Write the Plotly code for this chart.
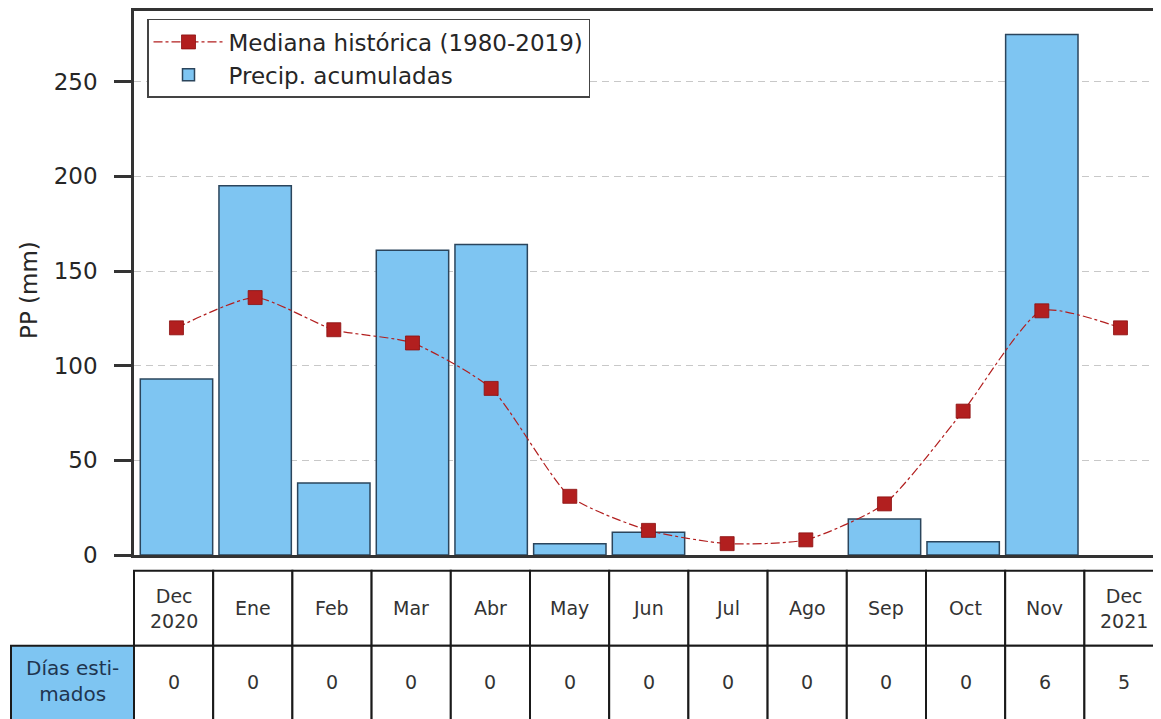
import plotly.graph_objects as go

# ---------------- data ----------------
months = ["Dec<br>2020", "Ene", "Feb", "Mar", "Abr", "May", "Jun", "Jul",
          "Ago", "Sep", "Oct", "Nov", "Dec<br>2021"]
precip = [93, 195, 38, 161, 164, 6, 12, None, None, 19, 7, 275, None]
median_hist = [120, 136, 119, 112, 88, 31, 13, 6, 8, 27, 76, 129, 120]
dias_estimados = [0, 0, 0, 0, 0, 0, 0, 0, 0, 0, 0, 6, 5]
row_label = "Días esti-<br>mados"
y_ticks = [0, 50, 100, 150, 200, 250]

# ---------------- style / layout ----------------
FONT = "DejaVu Sans, Liberation Sans, sans-serif"
BAR_FILL = "#7EC5F2"
BAR_EDGE = "#2B455C"
RED = "#B21F1F"
SPINE = "#333333"
TEXT = "#262626"
OFF = 8                      # page body offset of the figure
W, H = 1161 - OFF, 719 - OFF
ML, MR, MT, MB = 134 - OFF, 0, 1, 719 - 555
PLOT_W = W - ML - MR
PLOT_H = H - MT - MB
PX_PER_UNIT = 1.9
COL_PX = 79.2                # table column width in px
HDR_TOP, HDR_BOT, ROW_BOT = 570.7, 646.0, 722.0   # screen px rows
LABEL_LEFT = 11


def py(s):  # screen pixel row -> paper y
    return (H - MB - (s - OFF)) / PLOT_H


def px(s):  # screen pixel col -> paper x
    return ((s - OFF) - ML) / PLOT_W


x = list(range(len(months)))

fig = go.Figure()
fig.add_trace(go.Bar(
    x=x, y=precip, width=0.92, name="Precip. acumuladas",
    marker=dict(color=BAR_FILL, line=dict(color=BAR_EDGE, width=1.5)),
    legendrank=2,
))
fig.add_trace(go.Scatter(
    x=x, y=median_hist, mode="lines+markers", name="Mediana histórica (1980-2019)",
    line=dict(color=RED, width=1.2, dash="dashdot", shape="spline", smoothing=0.6),
    marker=dict(symbol="square", size=14, color=RED, line=dict(color="#8B1010", width=0.8)),
    legendrank=1,
))

fig.update_xaxes(
    range=[-0.54, 12.515], showticklabels=False, ticks="", showgrid=False,
    zeroline=False, showline=True, linecolor=SPINE, linewidth=2.5, mirror=True,
)
fig.update_yaxes(
    range=[0, PLOT_H / PX_PER_UNIT], tickvals=y_ticks, ticks="outside", ticklen=17,
    tickwidth=2.5, tickcolor=SPINE, showline=True, linecolor=SPINE, linewidth=2.5,
    showgrid=True, gridcolor="#C8C8C8", griddash="7px,5px", gridwidth=1.2,
    zeroline=False, ticklabelstandoff=12,
    tickfont=dict(family=FONT, size=23, color=TEXT),
)

shapes = []
annotations = []
col_w = COL_PX / PLOT_W
border = dict(color="#1a1a1a", width=2)
for i, (m, d) in enumerate(zip(months, dias_estimados)):
    x0, x1 = i * col_w, (i + 1) * col_w
    shapes.append(dict(type="rect", xref="paper", yref="paper", x0=x0, x1=x1,
                       y0=py(HDR_BOT), y1=py(HDR_TOP), fillcolor="white",
                       line=border, layer="above"))
    shapes.append(dict(type="rect", xref="paper", yref="paper", x0=x0, x1=x1,
                       y0=py(ROW_BOT), y1=py(HDR_BOT), fillcolor="white",
                       line=border, layer="above"))
    annotations.append(dict(xref="paper", yref="paper", x=(x0 + x1) / 2,
                            y=py((HDR_TOP + HDR_BOT) / 2), text=m, showarrow=False,
                            xanchor="center", yanchor="middle",
                            font=dict(family=FONT, size=19, color="#333333")))
    annotations.append(dict(xref="paper", yref="paper", x=(x0 + x1) / 2,
                            y=py(682), text=str(d), showarrow=False,
                            xanchor="center", yanchor="middle",
                            font=dict(family=FONT, size=19, color="#333333")))

# row label cell
shapes.append(dict(type="rect", xref="paper", yref="paper", x0=px(LABEL_LEFT), x1=0,
                   y0=py(ROW_BOT), y1=py(HDR_BOT), fillcolor=BAR_FILL,
                   line=border, layer="above"))
annotations.append(dict(xref="paper", yref="paper", x=px((LABEL_LEFT + 134) / 2),
                        y=py(681), text=row_label, showarrow=False,
                        xanchor="center", yanchor="middle",
                        font=dict(family=FONT, size=20, color="#1F3550")))

# y-axis title
annotations.append(dict(xref="paper", yref="paper", x=px(29), y=py(289), text="PP (mm)",
                        textangle=-90, showarrow=False, xanchor="center", yanchor="middle",
                        font=dict(family=FONT, size=23, color=TEXT)))

fig.update_layout(
    width=W, height=H, margin=dict(l=ML, r=MR, t=MT, b=MB),
    plot_bgcolor="white", paper_bgcolor="white",
    font=dict(family=FONT, color=TEXT),
    shapes=shapes, annotations=annotations,
    showlegend=True,
    legend=dict(x=px(147), y=py(17), xanchor="left", yanchor="top",
                bgcolor="white", bordercolor="#444444", borderwidth=1.5,
                font=dict(family=FONT, size=23, color=TEXT), itemwidth=70,
                traceorder="normal"),
)

fig.write_html("out.html")
